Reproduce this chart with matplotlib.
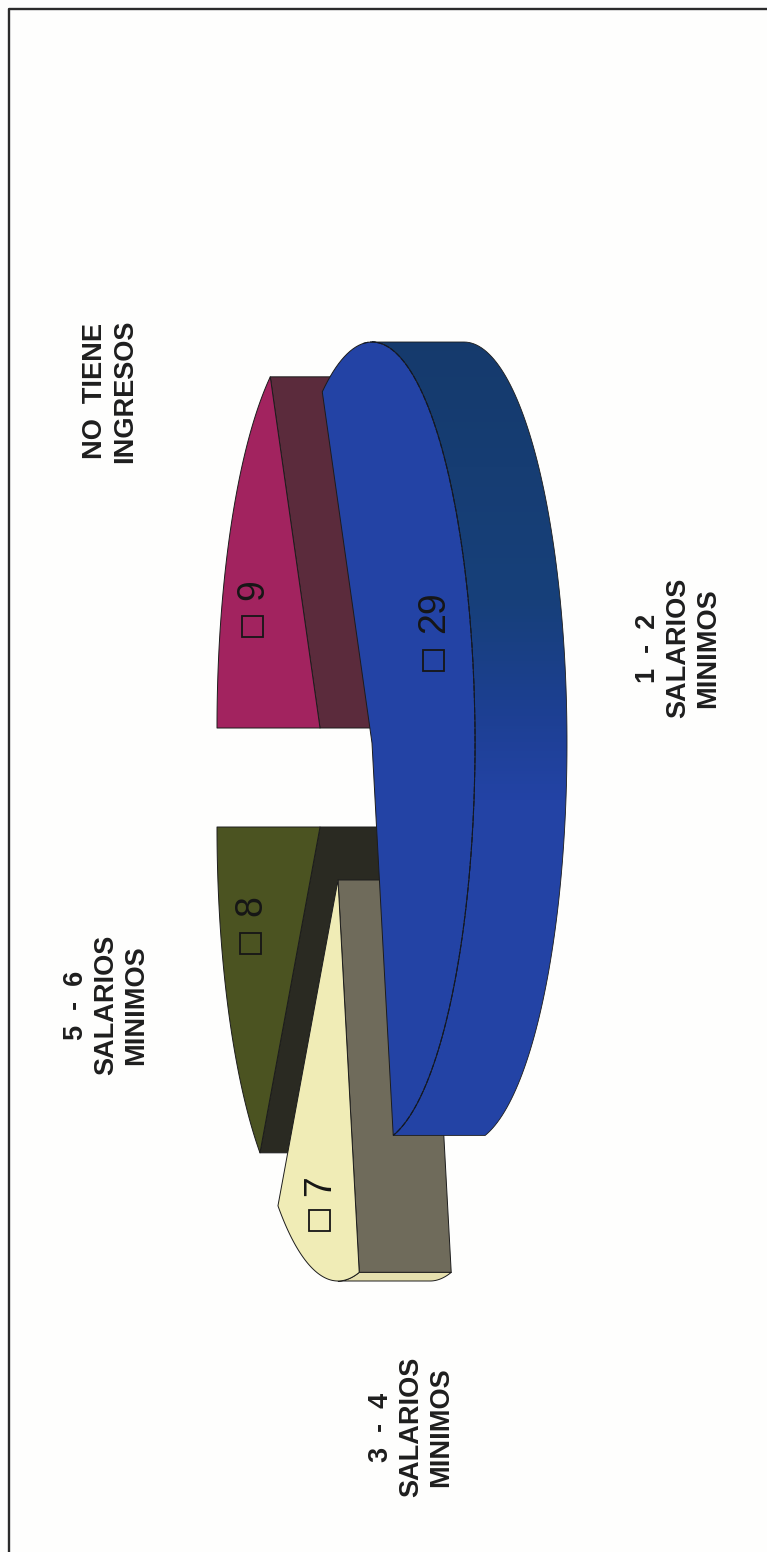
import numpy as np
import matplotlib
matplotlib.use("Agg")
import matplotlib.pyplot as plt
from matplotlib.colors import LinearSegmentedColormap
from matplotlib.patches import Polygon, Rectangle

# income brackets, clockwise from the big slice
categories = ["1  -  2\nSALARIOS\nMINIMOS", "3  -  4\nSALARIOS\nMINIMOS",
              "5  -  6\nSALARIOS\nMINIMOS", "NO  TIENE\nINGRESOS"]
values = [29, 7, 8, 9]
top_colors = ["#2343a5", "#f0ecb6", "#4b5321", "#a2235f"]
side_colors = ["#1d3f8e", "#6f6b5b", "#2a2a22", "#5b2b3c"]

# pie geometry, the whole chart is turned a quarter turn
RX, RY = 103, 401
DEPTH = 92
START = 241.13
apex = [(372, 743), (338, 880), (320, 827), (320, 728)]
value_pos = [(433, 660, 612), (319, 1220, 1186), (250, 943, 906), (252, 626, 590)]
label_pos = [(678, 648), (411, 1427), (106, 1005), (110, 391)]

fig = plt.figure(figsize=(767 / 100, 1552 / 100), dpi=100, facecolor="#fefefd")
ax = fig.add_axes([0, 0, 1, 1])
ax.set_xlim(0, 767)
ax.set_ylim(1552, 0)
ax.axis("off")

# outer frame
ax.plot([8.5, 8.5, 767], [1552, 8.5, 8.5], color="#2b2b2b", lw=1.7, zorder=1)


def rim(center, a0, a1):
    t = np.radians(np.linspace(a0, a1, 120))
    return np.column_stack([center[0] + RX * np.cos(t), center[1] + RY * np.sin(t)])


def draw_slice(i, a0, a1, z):
    c = np.array(apex[i], dtype=float)
    arc = rim(c, a0, a1)
    shift = np.array([DEPTH, 0.0])
    edge = dict(edgecolor="#1c1c1c", linewidth=0.7, joinstyle="round")

    # radial walls, only those that look towards +x can be seen
    if np.sin(np.radians(a0)) > 0.05:
        wall = [c, arc[0], arc[0] + shift, c + shift]
        ax.add_patch(Polygon(wall, facecolor=side_colors[i], zorder=z, **edge))
    if np.sin(np.radians(a1)) < -0.05:
        wall = [c, arc[-1], arc[-1] + shift, c + shift]
        ax.add_patch(Polygon(wall, facecolor=side_colors[i], zorder=z, **edge))

    # curved wall, only the part on the +x side of the rim shows
    lo, hi = max(a0, -90), min(a1, 90)
    if lo < hi:
        r = rim(c, lo, hi)
        outer = np.vstack([r, (r + shift)[::-1]])
        if i == 0:
            # the big slice gets lighter along its wall
            shade = LinearSegmentedColormap.from_list(
                "wall", [(0, "#153a6c"), (0.325, "#17407a"), (0.446, "#1c3f90"),
                         (0.566, "#2343a5"), (1, "#2343a5")])
            clip = Polygon(outer, facecolor="none", edgecolor="#1c1c1c", linewidth=0.6, zorder=z + 0.2)
            ax.add_patch(clip)
            grad = np.linspace(0, 1, 256).reshape(-1, 1)
            im = ax.imshow(grad, cmap=shade, extent=(c[0], c[0] + RX + DEPTH + 5, 1160, 330),
                           origin="upper", aspect="auto", zorder=z + 0.1, interpolation="bilinear")
            im.set_clip_path(clip)
        else:
            color = "#e6e0ae" if i == 1 else side_colors[i]
            ax.add_patch(Polygon(outer, facecolor=color, zorder=z, **edge))

    # top face
    face = np.vstack([c, arc])
    ax.add_patch(Polygon(face, facecolor=top_colors[i], zorder=z + 0.5, **edge))
    if i == 0:
        # dashed seam where the top face meets the wall
        seam = rim(c, max(a0, -95), a1)
        ax.plot(seam[:, 0], seam[:, 1], color="#101828", lw=0.8, ls=(0, (5, 1.5)), zorder=z + 0.6)


shares = np.array(values) / sum(values) * 360
starts = START + np.concatenate([[0], np.cumsum(shares)[:-1]])
order = [3, 2, 1, 0]
for z, i in enumerate(order):
    a0 = starts[i] - 360 * np.round(starts[i] / 360)
    a1 = a0 + shares[i]
    draw_slice(i, a0, a1, 2 + z * 2)

ax.set_xlim(0, 767)
ax.set_ylim(1552, 0)

# value tags: little colour key plus the number
for i, (x, y_key, y_num) in enumerate(value_pos):
    ax.add_patch(Rectangle((x - 10.5, y_key - 10.5), 21, 21, facecolor=top_colors[i],
                           edgecolor="#161616", linewidth=1.3, zorder=12))
    ax.text(x + 1, y_num, str(values[i]), rotation=90, ha="center", va="center", color="#161616",
            fontsize=27, family="Liberation Sans", zorder=12)

for text, (x, y) in zip(categories, label_pos):
    ax.text(x, y, text, rotation=90, ha="center", va="center", ma="center", color="#1e1e1e",
            fontsize=19.5, fontweight="bold", family="Liberation Sans", linespacing=1.21)

fig.savefig("out.png", dpi=100, facecolor=fig.get_facecolor())
